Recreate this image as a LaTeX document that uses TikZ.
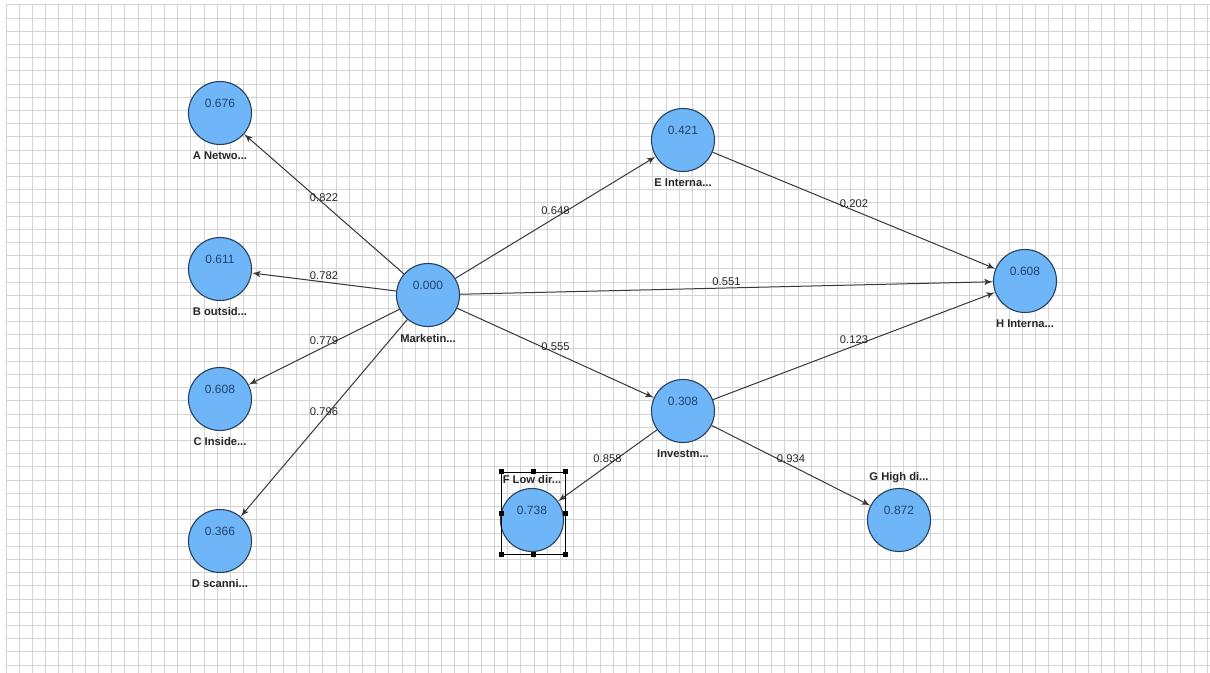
\documentclass[tikz,border=0pt]{standalone}
\usepackage{fontspec}
\setmainfont{Liberation Sans}
\usetikzlibrary{positioning, arrows}
\definecolor{lvfill}{RGB}{110,182,248}
\definecolor{lvline}{RGB}{40,65,95}
\definecolor{valtext}{RGB}{35,65,110}
\definecolor{gridgray}{RGB}{212,212,212}
\tikzset{
x=0.5pt, y=-0.5pt, % one unit is one pixel of the screen
>=latex', % small filled arrow heads
lv/.style={circle, draw=lvline, line width=0.55pt, fill=lvfill, minimum size=31.5pt, inner sep=0pt, label={[val]center:#1}}, % latent variable with its value
val/.style={text=valtext, font=\fontsize{6}{7}\selectfont, yshift=5pt},
tag/.style={font=\fontsize{5.6}{7}\selectfont\bfseries, text=black!85, inner sep=1pt}, % name under a circle
link/.style={->, draw=black!78, line width=0.5pt},
coef/.style={midway, above, inner sep=1pt, font=\fontsize{5.6}{7}\selectfont, text=black!85}, % path coefficient
}
\begin{document}
\begin{tikzpicture}
                \useasboundingbox (0,0) rectangle (1210,673);
                \fill[white] (0,0) rectangle (1210,673);
                % grid of the canvas
                \foreach \gx in {0,...,91}
                    \draw[gridgray, line width=0.5pt] ({6+13.2*\gx},5) -- ({6+13.2*\gx},673);
                \foreach \gy in {0,...,50}
                    \draw[gridgray, line width=0.5pt] (6,{5+13.2*\gy}) -- (1210,{5+13.2*\gy});

                \node[lv=0.676] (A) at (220,113) {};
                \node[lv=0.611] (B) at (220,269) {};
                \node[lv=0.608] (C) at (220,399) {};
                \node[lv=0.366] (D) at (220,541) {};
                \node[lv=0.000] (M) at (428,295) {};
                \node[lv=0.421] (E) at (683,140) {};
                \node[lv=0.308] (I) at (683,411) {};
                \node[lv=0.608] (H) at (1025,281) {};
                \node[lv=0.738] (F) at (532,520) {};
                \node[lv=0.872] (G) at (899,520) {};

                \node[tag, below=2pt of A] (tA) {A Netwo...};
                \node[tag, below=2pt of B] (tB) {B outsid...};
                \node[tag, below=2pt of C] (tC) {C Inside...};
                \node[tag, below=2pt of D] (tD) {D scanni...};
                \node[tag, below=2.5pt of M] (tM) {Marketin...};
                \node[tag, below=2pt of E] (tE) {E Interna...};
                \node[tag, below=2pt of I] (tI) {Investm...};
                \node[tag, below=2pt of H] (tH) {H Interna...};
                \node[tag, above=1pt of F] (tF) {F Low dir...};
                \node[tag, above=1.5pt of G] (tG) {G High di...};

                \draw
                    (M) edge[link] node[coef]{0.822} (A)
                    (M) edge[link] node[coef]{0.782} (B)
                    (M) edge[link] node[coef]{0.779} (C)
                    (M) edge[link] node[coef]{0.796} (D)
                    (M) edge[link] node[coef]{0.648} (E)
                    (M) edge[link] node[coef]{0.551} (H)
                    (M) edge[link] node[coef]{0.555} (I)
                    (E) edge[link] node[coef]{0.202} (H)
                    (I) edge[link] node[coef]{0.123} (H)
                    (I) edge[link] node[coef]{0.858} (F)
                    (I) edge[link] node[coef]{0.934} (G)
                    ;

                % selection frame round F
                \draw[black, line width=0.4pt] (501,472) rectangle (565,554);
                \foreach \hx/\hy in {501/472, 533/472, 565/472, 501/513, 565/513, 501/554, 533/554, 565/554}
                    \fill[black] ({\hx-2.5},{\hy-2.5}) rectangle ({\hx+2.5},{\hy+2.5});
            \end{tikzpicture}
\end{document}
